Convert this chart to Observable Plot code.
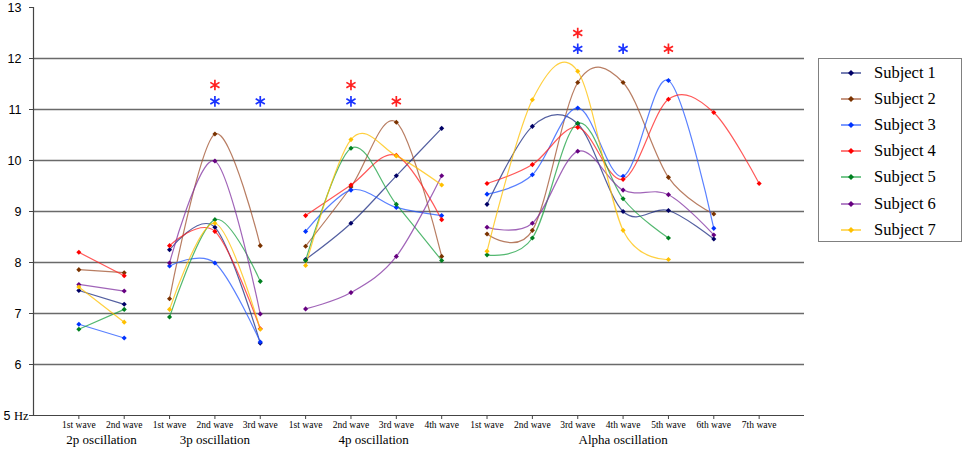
<!DOCTYPE html>
<html><head><meta charset="utf-8">
<script src="https://cdn.jsdelivr.net/npm/d3@7"></script>
<script src="https://cdn.jsdelivr.net/npm/@observablehq/plot@0.6"></script>
<style>
body{margin:0;background:#fff;}
#wrap{position:relative;width:964px;height:451px;}
#legend{position:absolute;left:818px;top:58px;width:144px;height:184px;border:1px solid #808080;box-sizing:border-box;font-family:"Liberation Serif",serif;font-size:16.5px;color:#000;}
.row{position:absolute;left:0;height:26px;width:140px;}
.row svg{position:absolute;left:22px;top:0;}
.row span{position:absolute;left:55px;top:3px;line-height:20px;white-space:nowrap;}
</style></head><body><div id="wrap"></div><script>
const groups = ["2p oscillation", "3p oscillation", "4p oscillation", "Alpha oscillation"];
const waveCounts = [2, 3, 4, 7];
const waveNames = ["1st wave", "2nd wave", "3rd wave", "4th wave", "5th wave", "6th wave", "7th wave"];
const subjects = ["Subject 1", "Subject 2", "Subject 3", "Subject 4", "Subject 5", "Subject 6", "Subject 7"];
const lineColors = ["#1a2a80", "#a0522d", "#2255ff", "#ff2020", "#1aa040", "#8030a0", "#ffc000"];
const pointColors = ["#000066", "#7a3300", "#0033ff", "#ff0000", "#008020", "#660080", "#ffc000"];
const yTicks = [5, 6, 7, 8, 9, 10, 11, 12, 13];

// values per subject: one list per oscillation group, one value per wave
const subject1 = [[7.45, 7.18], [8.25, 8.69, 6.42], [8.06, 8.77, 9.70, 10.63], [9.14, 10.67, 10.72, 9.00, 9.02, 8.46]];
const subject2 = [[7.86, 7.80], [7.29, 10.52, 8.33], [8.32, 9.48, 10.75, 8.12], [8.56, 8.63, 11.53, 11.53, 9.67, 8.95]];
const subject3 = [[6.79, 6.52], [7.93, 7.99, 6.44], [8.61, 9.42, 9.08, 8.92], [9.34, 9.72, 11.03, 9.69, 11.57, 8.67]];
const subject4 = [[8.20, 7.74], [8.33, 8.61, 6.70], [8.92, 9.52, 10.10, 8.84], [9.55, 9.92, 10.65, 9.63, 11.20, 10.94, 9.55]];
const subject5 = [[6.69, 7.08], [6.93, 8.84, 7.63], [8.04, 10.24, 9.14, 8.04], [8.15, 8.48, 10.73, 9.25, 8.48]];
const subject6 = [[7.57, 7.44], [7.99, 9.99, 6.99], [7.09, 7.41, 8.12, 9.70], [8.69, 8.77, 10.18, 9.42, 9.33, 8.54]];
const subject7 = [[7.52, 6.83], [7.08, 8.77, 6.69], [7.94, 10.41, 10.09, 9.52], [8.22, 11.19, 11.75, 8.63, 8.06]];
const subjectValues = [subject1, subject2, subject3, subject4, subject5, subject6, subject7];

// significance asterisks
const starGroup = [1, 1, 1, 2, 2, 2, 3, 3, 3, 3];
const starWave  = [1, 1, 2, 1, 1, 2, 2, 2, 3, 4];
const starColor = ["#ff2020", "#1a33ff", "#1a33ff", "#ff2020", "#1a33ff", "#ff2020", "#ff2020", "#1a33ff", "#1a33ff", "#ff2020"];
const starValue = [11.48, 11.16, 11.16, 11.48, 11.16, 11.16, 12.50, 12.19, 12.19, 12.19];

// position index of each category along x
const offsets = [];
{ let o = 1; for (const c of waveCounts) { offsets.push(o); o += c; } }
const nCats = d3.sum(waveCounts);
const catLabel = {};
waveCounts.forEach((c, g) => { for (let w = 0; w < c; w++) catLabel[offsets[g] + w] = waveNames[w]; });

const points = [];
subjectValues.forEach((sv, s) => sv.forEach((vals, g) => vals.forEach((v, w) => {
  points.push({s, subject: subjects[s], g, k: offsets[g] + w, value: v});
})));
const groupLabels = groups.map((name, g) => ({name, k: offsets[g] + (waveCounts[g] - 1) / 2}));
const stars = starGroup.map((g, i) => ({k: offsets[g] + starWave[i], value: starValue[i], color: starColor[i]}));

const chart = Plot.plot({
  width: 964, height: 451,
  marginLeft: 33, marginRight: 160, marginTop: 7, marginBottom: 36,
  x: {domain: [0, nCats + 1], axis: null},
  y: {domain: [5, 13], axis: null},
  marks: [
    Plot.ruleY(yTicks.filter(t => t > 5 && t < 13), {stroke: "#6a6a6a", strokeWidth: 1.4}),
    Plot.axisY({ticks: yTicks, label: null, tickSize: 4, tickPadding: 8, fontSize: 12.5, stroke: "#444",
      tickFormat: d => d === 5 ? "5 Hz" : String(d), fontFamily: "Liberation Sans, Arial, sans-serif"}),
    Plot.axisX({ticks: d3.range(1, nCats + 1), label: null, tickSize: 4, tickPadding: 2, fontSize: 9.5, stroke: "#444",
      tickFormat: d => catLabel[d], fontFamily: "Liberation Serif, serif"}),
    Plot.ruleX([0], {stroke: "#444", strokeWidth: 1.2}),
    Plot.ruleY([5], {stroke: "#444", strokeWidth: 1.2}),
    Plot.text(groupLabels, {x: "k", text: "name", frameAnchor: "bottom", dy: 28, fontSize: 13,
      fontFamily: "Liberation Serif, serif", fill: "#000"}),
    Plot.line(points, {x: "k", y: "value", z: d => d.s + "-" + d.g, stroke: d => lineColors[d.s],
      strokeWidth: 1.2, strokeOpacity: 0.75, curve: "cardinal", tension: 0}),
    Plot.dot(points, {x: "k", y: "value", symbol: "diamond2", r: 2.3, fill: d => pointColors[d.s], stroke: "none"}),
    Plot.dot(stars, {x: "k", y: "value", symbol: "asterisk", r: 5, stroke: "color", strokeWidth: 1.7})
  ]
});
document.getElementById("wrap").appendChild(chart);

// make "Hz" serif like the original, and keep the label inside the picture
chart.querySelectorAll("text").forEach(t => {
  if (t.textContent === "5 Hz") {
    t.textContent = "5 ";
    const ts = document.createElementNS("http://www.w3.org/2000/svg", "tspan");
    ts.setAttribute("font-family", "Liberation Serif, serif");
    ts.textContent = "Hz";
    t.appendChild(ts);
    t.setAttribute("transform", ((t.getAttribute("transform") || "") + " translate(7,0)").trim());
  }
});

// legend
const legend = document.createElement("div");
legend.id = "legend";
subjects.forEach((name, i) => {
  const row = document.createElement("div");
  row.className = "row";
  row.style.top = (1 + i * 26.1) + "px";
  row.innerHTML = `<svg width="22" height="26"><line x1="0" x2="20" y1="13" y2="13" stroke="${lineColors[i]}" stroke-opacity="0.75" stroke-width="1.6"/>` +
    `<polygon points="10,10 13,13 10,16 7,13" fill="${pointColors[i]}"/></svg><span>${name}</span>`;
  legend.appendChild(row);
});
document.getElementById("wrap").appendChild(legend);
</script></body></html>
